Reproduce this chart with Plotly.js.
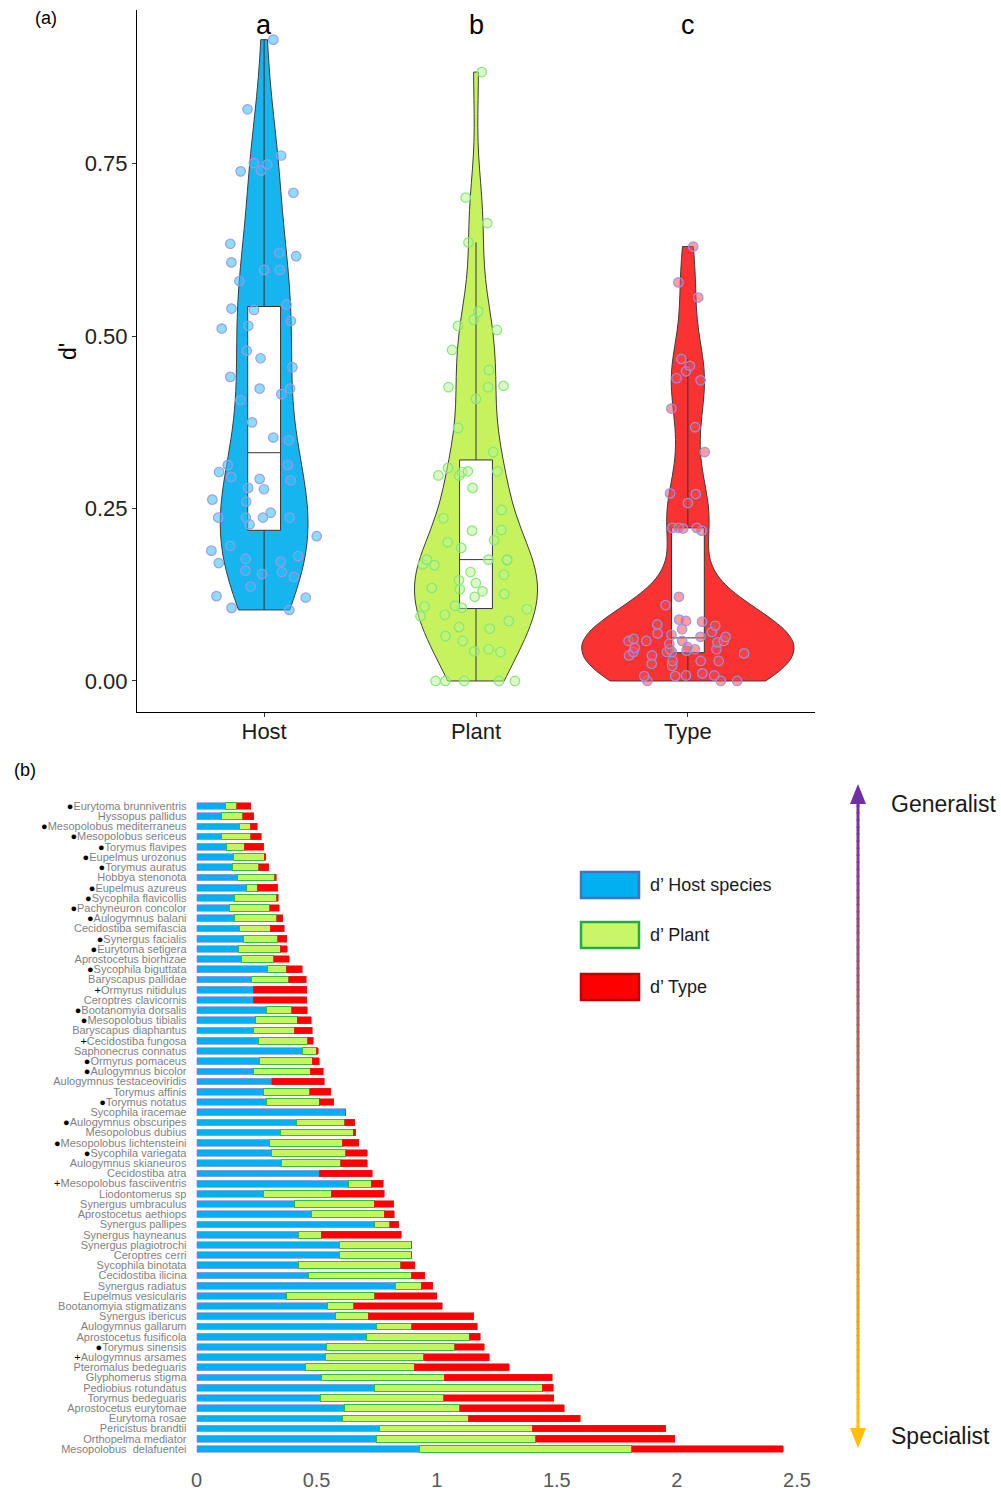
<!DOCTYPE html>
<html>
<head>
<meta charset="utf-8">
<script src="https://cdn.plot.ly/plotly-3.0.1.min.js"></script>
<style>
html,body{margin:0;padding:0;background:#fff;}
#chart{width:1001px;height:1493px;}
</style>
</head>
<body>
<div id="chart"></div>
<script>
// ---------- data ----------
const species = [
 'Eurytoma brunniventris','Hyssopus pallidus','Mesopolobus mediterraneus','Mesopolobus sericeus',
 'Torymus flavipes','Eupelmus urozonus','Torymus auratus','Hobbya stenonota','Eupelmus azureus',
 'Sycophila flavicollis','Pachyneuron concolor','Aulogymnus balani','Cecidostiba semifascia',
 'Synergus facialis','Eurytoma setigera','Aprostocetus biorhizae','Sycophila biguttata',
 'Baryscapus pallidae','Ormyrus nitidulus','Ceroptres clavicornis','Bootanomyia dorsalis',
 'Mesopolobus tibialis','Baryscapus diaphantus','Cecidostiba fungosa','Saphonecrus connatus',
 'Ormyrus pomaceus','Aulogymnus bicolor','Aulogymnus testaceoviridis','Torymus affinis',
 'Torymus notatus','Sycophila iracemae','Aulogymnus obscuripes','Mesopolobus dubius',
 'Mesopolobus lichtensteini','Sycophila variegata','Aulogymnus skianeuros','Cecidostiba atra',
 'Mesopolobus fasciiventris','Liodontomerus sp','Synergus umbraculus','Aprostocetus aethiops',
 'Synergus pallipes','Synergus hayneanus','Synergus plagiotrochi','Ceroptres cerri',
 'Sycophila binotata','Cecidostiba ilicina','Synergus radiatus','Eupelmus vesicularis',
 'Bootanomyia stigmatizans','Synergus ibericus','Aulogymnus gallarum','Aprostocetus fusificola',
 'Torymus sinensis','Aulogymnus arsames','Pteromalus bedeguaris','Glyphomerus stigma',
 'Pediobius rotundatus','Torymus bedeguaris','Aprostocetus eurytomae','Eurytoma rosae',
 'Pericistus brandtii','Orthopelma mediator','Mesopolobus  delafuentei'
];
const speciesMark = [
 '●','','●','●','●','●','●','','●','●','●','●','','●','●','','●','','+','','●','●','','+','',
 '●','●','','','●','','●','','●','●','','','+','','','','','','','','','','','','','','','',
 '●','+','','','','','','','','',''
];
const dHost = [
 0.121,0.106,0.181,0.103,0.123,0.155,0.151,0.171,0.210,0.158,0.137,0.160,0.177,0.196,0.173,0.189,
 0.296,0.227,0.237,0.237,0.293,0.244,0.237,0.260,0.441,0.263,0.237,0.313,0.278,0.291,0.621,0.416,
 0.349,0.303,0.313,0.353,0.511,0.634,0.280,0.407,0.479,0.740,0.424,0.596,0.596,0.424,0.468,0.829,
 0.375,0.546,0.580,0.751,0.708,0.540,0.538,0.455,0.522,0.739,0.515,0.616,0.607,0.762,0.749,0.930
];
const dPlant = [
 0.046,0.087,0.043,0.122,0.076,0.126,0.108,0.154,0.042,0.176,0.168,0.175,0.130,0.142,0.176,0.133,
 0.078,0.158,0.000,0.000,0.104,0.176,0.169,0.204,0.058,0.218,0.236,0.000,0.193,0.219,0.000,0.201,
 0.304,0.304,0.309,0.248,0.000,0.094,0.280,0.332,0.303,0.065,0.096,0.298,0.298,0.426,0.426,0.106,
 0.367,0.109,0.135,0.146,0.428,0.536,0.409,0.451,0.509,0.701,0.515,0.480,0.524,0.636,0.664,0.883
];
const dType = [
 0.058,0.046,0.029,0.044,0.080,0.008,0.042,0.007,0.086,0.007,0.040,0.025,0.058,0.037,0.029,0.064,
 0.067,0.071,0.222,0.222,0.064,0.058,0.075,0.022,0.008,0.029,0.054,0.218,0.087,0.061,0.000,0.042,
 0.011,0.069,0.089,0.110,0.221,0.049,0.222,0.082,0.042,0.037,0.332,0.000,0.000,0.058,0.056,0.048,
 0.258,0.368,0.439,0.272,0.046,0.122,0.271,0.395,0.449,0.046,0.457,0.436,0.467,0.556,0.578,0.630
];
const groupNames = ['Host','Plant','Type'];
const groupLetters = ['a','b','c'];
const seriesNames = ['d’ Host species','d’ Plant','d’ Type'];
const yTicksA = [0, 0.25, 0.5, 0.75];
const xTicksB = [0, 0.5, 1, 1.5, 2, 2.5];

// ---------- helpers ----------
const FONT = 'Liberation Sans, Arial, sans-serif';
const W = 1001, H = 1493;
const px = x => x / W;
const py = y => 1 - y / H;

function quantile(sorted, p) {
  const h = (sorted.length - 1) * p, lo = Math.floor(h), hi = Math.ceil(h);
  return sorted[lo] + (sorted[hi] - sorted[lo]) * (h - lo);
}
function nrd0(arr) {
  const n = arr.length, s = [...arr].sort((a, b) => a - b);
  const m = arr.reduce((a, b) => a + b, 0) / n;
  const sd = Math.sqrt(arr.reduce((a, b) => a + (b - m) * (b - m), 0) / (n - 1));
  const iqr = quantile(s, 0.75) - quantile(s, 0.25);
  const lo = Math.min(sd, iqr / 1.34);
  return 0.9 * lo * Math.pow(n, -0.2);
}

// ---------- panel (a): violins ----------
const groupValues = [dHost, dPlant, dType];
const violinStyles = [
  {fill: '#17b5ef', mfill: 'rgba(40,195,250,0.55)', mline: 'rgba(165,150,225,0.95)'},
  {fill: '#c6f25e', mfill: 'rgba(185,245,140,0.5)', mline: 'rgba(130,230,120,0.95)'},
  {fill: '#fb3232', mfill: 'rgba(240,80,90,0.55)', mline: 'rgba(150,150,230,0.95)'}
];
const traces = groupValues.map((vals, i) => ({
  type: 'violin',
  x: vals.map(() => groupNames[i]),
  y: vals,
  xaxis: 'x', yaxis: 'y',
  name: groupNames[i],
  scalegroup: 'all', scalemode: 'count',
  spanmode: 'hard',
  bandwidth: nrd0(vals),
  fillcolor: violinStyles[i].fill,
  line: {color: '#3c3c3c', width: 1},
  points: 'all', pointpos: 0, jitter: 0.6,
  marker: {size: 9.5, color: violinStyles[i].mfill, line: {color: violinStyles[i].mline, width: 1.2}},
  box: {visible: true, width: 0.155, fillcolor: '#ffffff', line: {color: '#333333', width: 1}},
  meanline: {visible: false},
  showlegend: false, hoverinfo: 'skip'
}));

// ---------- panel (b): stacked bars ----------
const barSeries = [dHost, dPlant, dType];
const barStyles = [
  {color: '#00b0f0', line: '#9a9ae0', lw: 0.8},
  {color: '#c4f55e', line: '#2fbf3a', lw: 1},
  {color: '#ff0000', line: '#f02020', lw: 0.6}
];
barSeries.forEach((vals, i) => {
  traces.push({
    type: 'bar', orientation: 'h',
    y: species, x: vals,
    xaxis: 'x2', yaxis: 'y2',
    name: seriesNames[i],
    width: 0.66,
    marker: {color: barStyles[i].color, line: {color: barStyles[i].line, width: barStyles[i].lw}},
    showlegend: false, hoverinfo: 'skip'
  });
});
const speciesLabels = species.map((s, i) =>
  speciesMark[i] ? '<span style="color:#000">' + speciesMark[i] + '</span>' + s : s);

// ---------- annotations & shapes ----------
const annotations = [];
const shapes = [];
groupLetters.forEach((l, i) => annotations.push({
  xref: 'x', yref: 'paper', x: groupNames[i], y: py(25), text: l, showarrow: false,
  font: {family: FONT, size: 27, color: '#000'}, xanchor: 'center', yanchor: 'middle'
}));
annotations.push({xref: 'paper', yref: 'paper', x: px(46), y: py(18), text: '(a)', showarrow: false,
  font: {family: FONT, size: 18, color: '#000'}, xanchor: 'center', yanchor: 'middle'});
annotations.push({xref: 'paper', yref: 'paper', x: px(25), y: py(770), text: '(b)', showarrow: false,
  font: {family: FONT, size: 18, color: '#000'}, xanchor: 'center', yanchor: 'middle'});
annotations.push({xref: 'paper', yref: 'paper', x: px(68), y: py(352), text: "d'", showarrow: false,
  textangle: -90, font: {family: FONT, size: 23, color: '#000'}, xanchor: 'center', yanchor: 'middle'});

// legend boxes for panel (b)
const legendFill = ['#00b0f0', '#c8f56a', '#ff0000'];
const legendLine = ['#4472c4', '#1fae3c', '#c00000'];
const legendY = [885, 935, 987];
seriesNames.forEach((n, i) => {
  shapes.push({type: 'rect', xref: 'paper', yref: 'paper',
    x0: px(581), x1: px(639), y0: py(legendY[i] - 13), y1: py(legendY[i] + 13),
    fillcolor: legendFill[i], line: {color: legendLine[i], width: 2.5}});
  annotations.push({xref: 'paper', yref: 'paper', x: px(648), y: py(legendY[i]), text: n,
    showarrow: false, xanchor: 'left', yanchor: 'middle',
    font: {family: FONT, size: 18, color: '#1a1a1a'}});
});

// gradient arrow Generalist -> Specialist
function lerpColor(a, b, t) {
  const pa = [1,3,5].map(k => parseInt(a.substr(k, 2), 16));
  const pb = [1,3,5].map(k => parseInt(b.substr(k, 2), 16));
  const c = pa.map((v, k) => Math.round(v + (pb[k] - v) * t));
  return 'rgb(' + c.join(',') + ')';
}
const cTop = '#7030a0', cBot = '#ffc000';
const ax = 858, yA = 798, yB = 1434, N = 90;
for (let k = 0; k < N; k++) {
  const y0 = yA + (yB - yA) * k / N, y1 = yA + (yB - yA) * (k + 1.2) / N;
  shapes.push({type: 'line', xref: 'paper', yref: 'paper', x0: px(ax), x1: px(ax),
    y0: py(y0), y1: py(Math.min(y1, yB)), line: {color: lerpColor(cTop, cBot, (k + 0.5) / N), width: 3}});
}
shapes.push({type: 'path', xref: 'paper', yref: 'paper',
  path: `M ${px(ax)} ${py(784)} L ${px(ax - 8)} ${py(804)} L ${px(ax + 8)} ${py(804)} Z`,
  fillcolor: cTop, line: {color: cTop, width: 0}});
shapes.push({type: 'path', xref: 'paper', yref: 'paper',
  path: `M ${px(ax)} ${py(1448)} L ${px(ax - 8)} ${py(1428)} L ${px(ax + 8)} ${py(1428)} Z`,
  fillcolor: cBot, line: {color: cBot, width: 0}});
annotations.push({xref: 'paper', yref: 'paper', x: px(943), y: py(804), text: 'Generalist', showarrow: false,
  xanchor: 'center', yanchor: 'middle', font: {family: FONT, size: 23, color: '#1a1a1a'}});
annotations.push({xref: 'paper', yref: 'paper', x: px(940), y: py(1436), text: 'Specialist', showarrow: false,
  xanchor: 'center', yanchor: 'middle', font: {family: FONT, size: 23, color: '#1a1a1a'}});

// ---------- layout ----------
const layout = {
  width: W, height: H,
  margin: {l: 0, r: 0, t: 0, b: 0},
  paper_bgcolor: '#fff', plot_bgcolor: '#fff',
  font: {family: FONT},
  violinmode: 'overlay', violingap: 0, violingroupgap: 0,
  barmode: 'stack',
  xaxis: {
    domain: [px(137), px(815)], anchor: 'y',
    type: 'category', categoryorder: 'array', categoryarray: groupNames,
    range: [-0.6, 2.6],
    showline: true, linecolor: '#000', linewidth: 1,
    ticks: 'outside', ticklen: 4, tickcolor: '#333',
    tickfont: {family: FONT, size: 22, color: '#1a1a1a'},
    ticklabelstandoff: -4,
    showgrid: false, zeroline: false, fixedrange: true
  },
  yaxis: {
    domain: [py(712), py(10)], anchor: 'x',
    range: [-0.045, 0.973],
    showline: true, linecolor: '#000', linewidth: 1,
    ticks: 'outside', ticklen: 4, tickcolor: '#333',
    tickmode: 'array', tickvals: yTicksA, ticktext: yTicksA.map(v => v.toFixed(2)),
    tickfont: {family: FONT, size: 22, color: '#222'},
    showgrid: false, zeroline: false, fixedrange: true
  },
  xaxis2: {
    domain: [px(196.5), px(797)], anchor: 'y2',
    range: [0, 2.5],
    showline: false, showgrid: false, zeroline: false, ticks: '',
    tickmode: 'array', tickvals: xTicksB, ticktext: xTicksB.map(v => String(v)),
    tickfont: {family: FONT, size: 20, color: '#595959'},
    ticklabelstandoff: 12, fixedrange: true
  },
  yaxis2: {
    domain: [py(1454.1), py(800.9)], anchor: 'x2',
    type: 'category', categoryorder: 'array', categoryarray: species,
    range: [species.length - 0.5, -0.5],
    showline: false, showgrid: false, zeroline: false, ticks: '',
    tickmode: 'array', tickvals: species, ticktext: speciesLabels,
    tickfont: {family: FONT, size: 11, color: '#7f7f7f'},
    ticklabelstandoff: 9, fixedrange: true
  },
  annotations: annotations,
  shapes: shapes
};

Plotly.newPlot('chart', traces, layout, {displayModeBar: false, staticPlot: true});
</script>
</body>
</html>
